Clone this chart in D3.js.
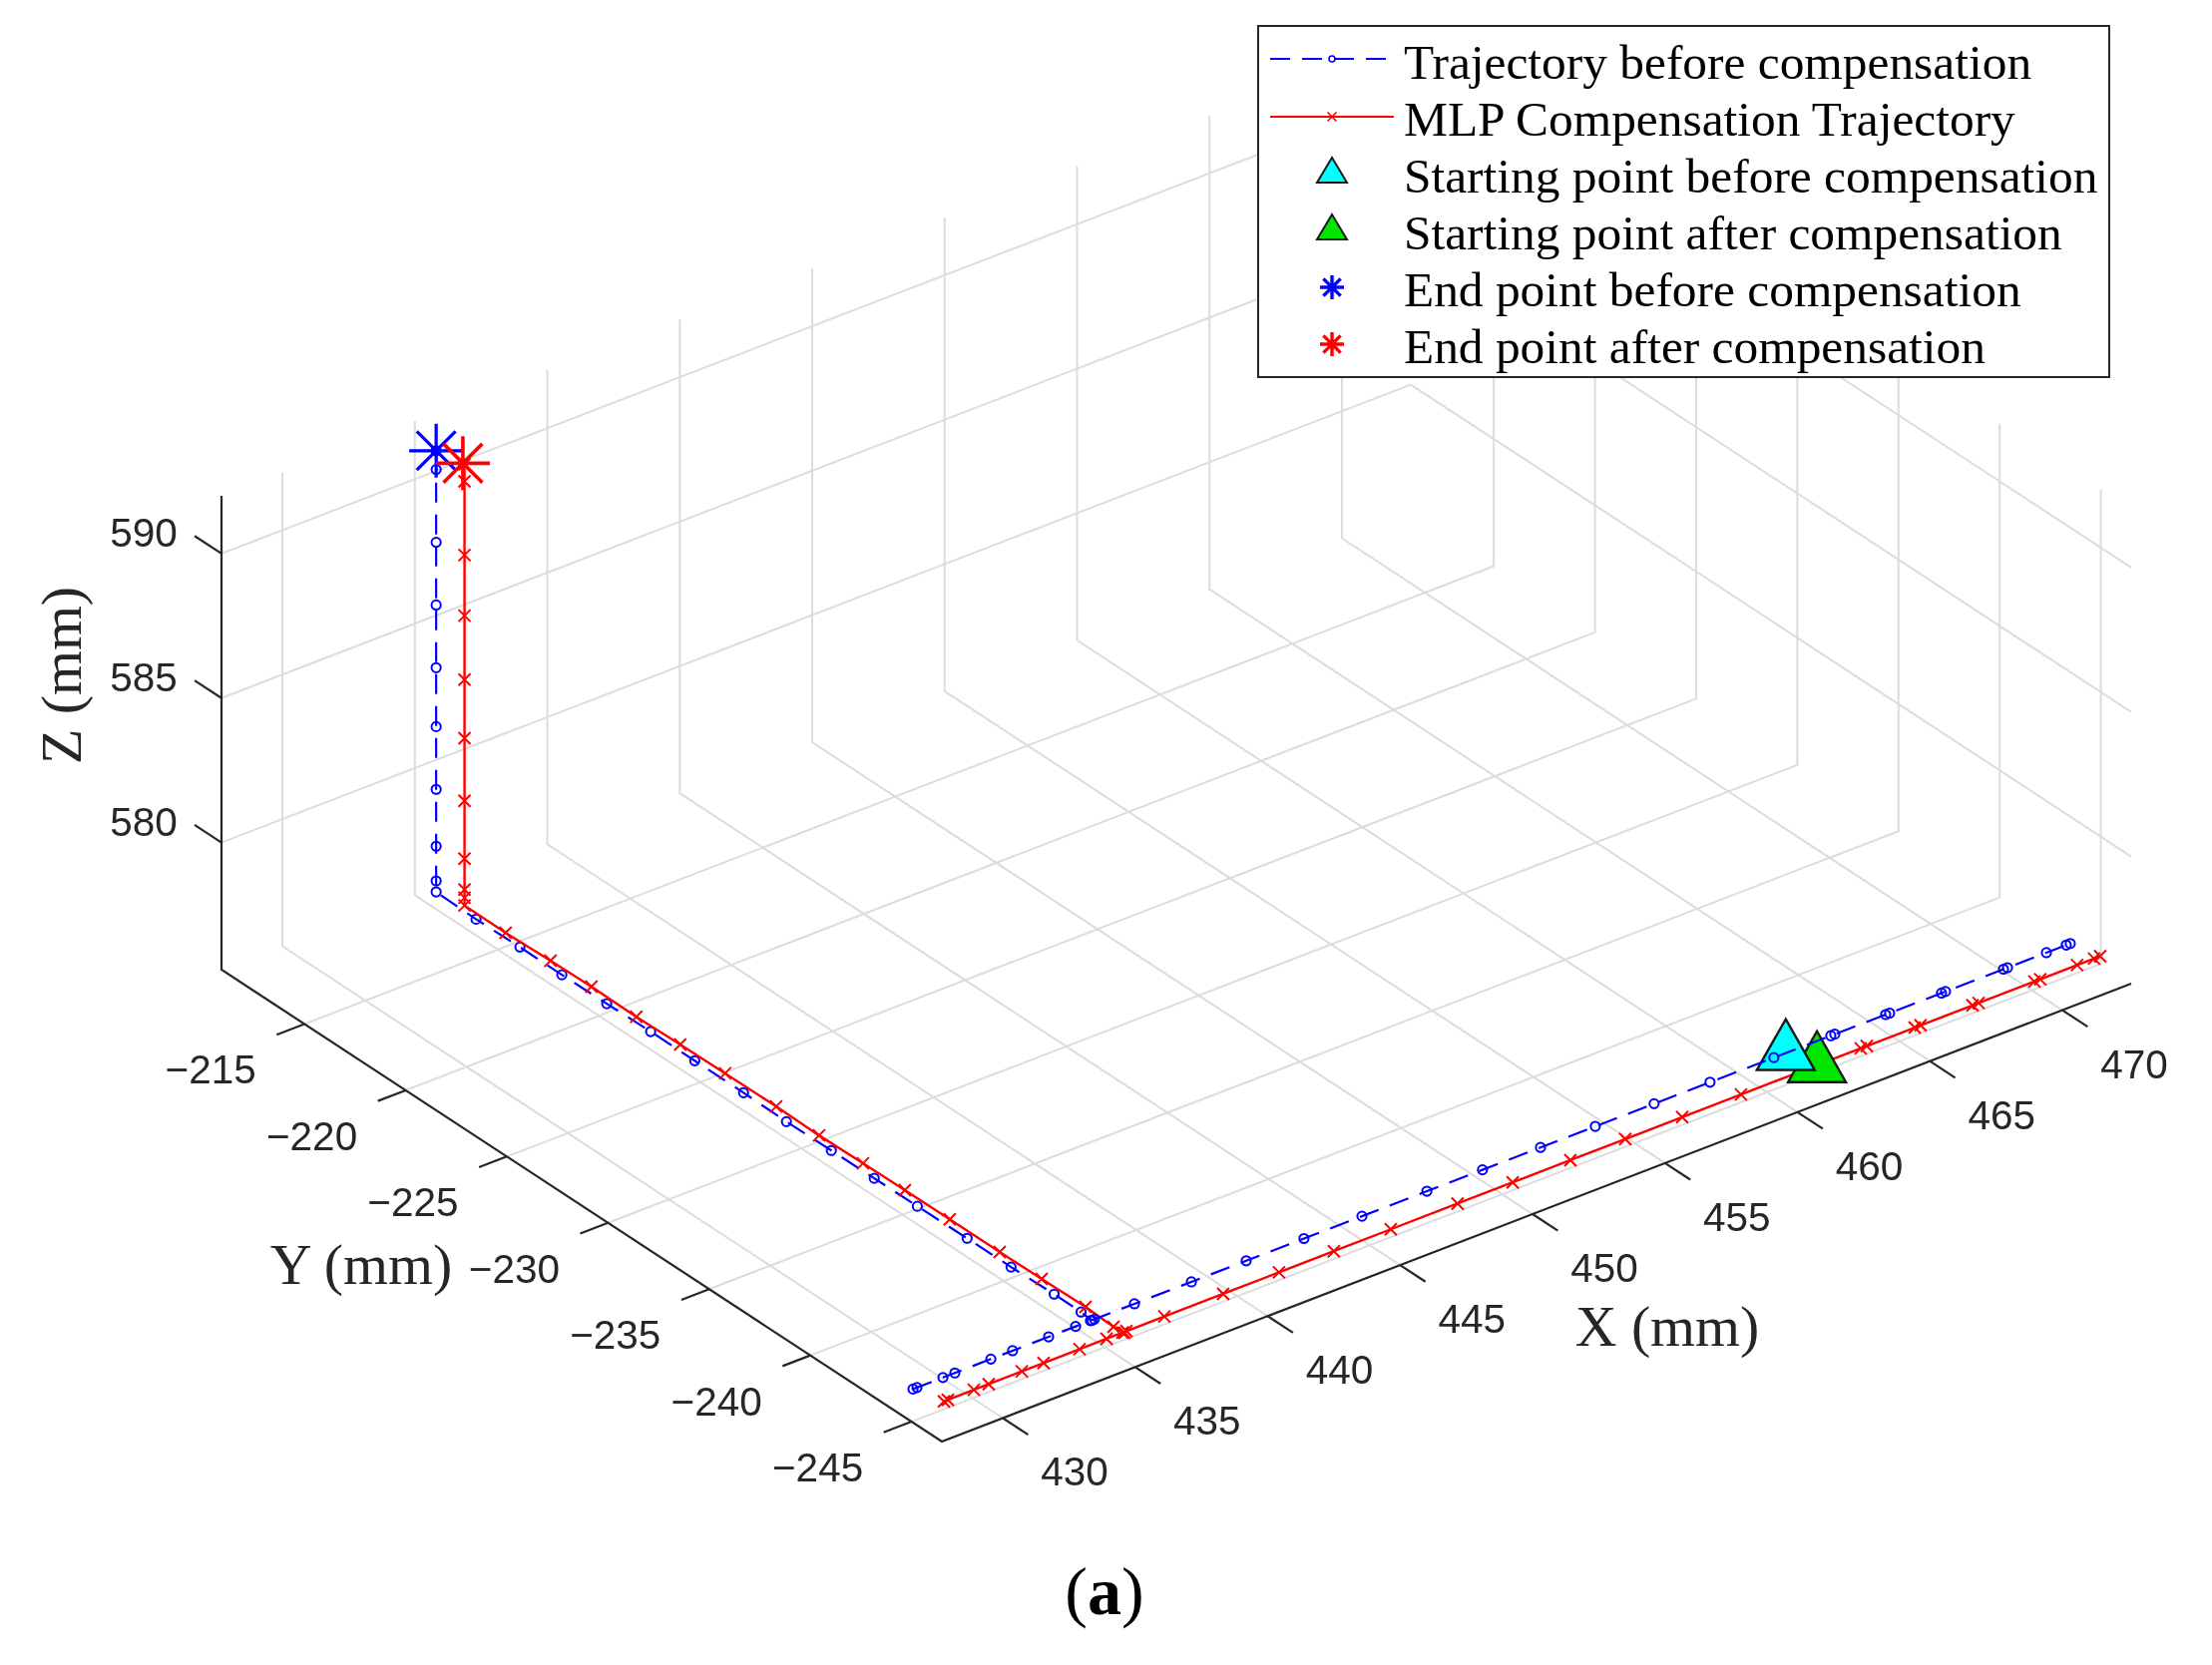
<!DOCTYPE html>
<html>
<head>
<meta charset="utf-8">
<script src="https://cdn.jsdelivr.net/npm/d3@7"></script>
<style>
  body { margin: 0; background: #fff; }
  svg { filter: blur(0.5px); }
  text { fill: #262626; }
  .tick-label { font-family: "Liberation Sans", Arial, sans-serif; font-size: 40.5px; }
  .axis-label { font-family: "Liberation Serif", "Times New Roman", serif; font-size: 57.8px; }
  .legend-label { font-family: "Liberation Serif", "Times New Roman", serif; font-size: 49.4px; fill: #000; }
</style>
</head>
<body>
<div id="chart"></div>
<script>
// axis limits and ticks (mm)
var xLim = [427.7, 472.6], yLim = [-246.5, -210.9], zLim = [575.6, 592];
var xTicks = [430, 435, 440, 445, 450, 455, 460, 465, 470];
var yTicks = [-245, -240, -235, -230, -225, -220, -215];
var zTicks = [580, 585, 590];

// before compensation: run along X
var blueRunX = [427.45, 427.60, 428.58, 429.03, 430.39, 431.21, 432.57, 433.59, 434.15, 434.30, 435.81, 437.96, 440.03, 442.21, 444.40, 446.85, 448.95, 451.14, 453.21, 455.43, 457.54, 459.95, 462.10, 462.25, 464.17, 464.32, 466.28, 466.43, 468.62, 468.77, 470.24, 470.99, 471.14];
var blueRunY = -245.4, blueRunZ = 577;
// before compensation: drop along Z then run along Y
var blueLegX = 434.2;
var blueLegY = [-213.0, -213.0, -213.0, -213.0, -213.0, -213.0, -213.0, -213.0, -213.0, -213.0, -214.97, -217.14, -219.21, -221.43, -223.60, -225.78, -228.19, -230.31, -232.53, -234.65, -236.78, -239.24, -241.41, -243.54, -244.87, -245.41];
var blueLegZ = [592.23, 591.58, 589.06, 586.89, 584.72, 582.68, 580.51, 578.54, 577.34, 576.96, 576.92, 576.95, 576.94, 576.96, 576.99, 576.98, 576.98, 576.95, 576.97, 576.98, 576.99, 577.01, 577.01, 577.05, 577.04, 577.00];

// after compensation: run along X
var redRunX = [427.74, 427.89, 428.87, 429.43, 430.68, 431.50, 432.86, 433.88, 434.48, 434.63, 436.06, 438.28, 440.39, 442.46, 444.61, 447.13, 449.21, 451.39, 453.46, 455.61, 457.83, 460.09, 460.24, 462.35, 462.58, 464.39, 464.61, 466.57, 466.80, 468.91, 469.13, 470.52, 471.16, 471.39];
var redRunY = -246.55, redRunZ = 577;
// after compensation: drop along Z then run along Y
var redLegX = 434.56;
var redLegY = [-213.93, -213.93, -213.93, -213.93, -213.93, -213.93, -213.93, -213.93, -213.93, -213.93, -213.93, -215.96, -218.18, -220.20, -222.42, -224.59, -226.81, -229.33, -231.45, -233.62, -235.69, -237.91, -240.38, -242.45, -244.62, -246.00, -246.54];
var redLegZ = [592.06, 591.47, 588.92, 586.82, 584.61, 582.58, 580.41, 578.41, 577.34, 577.06, 576.79, 576.78, 576.83, 576.86, 576.83, 576.87, 576.89, 576.90, 576.87, 576.90, 576.92, 576.93, 576.93, 576.95, 576.98, 576.92, 576.96];

// start and end points [x, y, z]
var startBefore = [460.4, -245.4, 577], startAfter = [460.7, -246.55, 577];
var endBefore = [434.2, -213.0, 592.23], endAfter = [434.56, -213.85, 592.06];

var legendLabels = ["Trajectory before compensation", "MLP Compensation Trajectory", "Starting point before compensation", "Starting point after compensation", "End point before compensation", "End point after compensation"];

var width = 2217, height = 1669;
var svg = d3.select("#chart").append("svg").attr("width", width).attr("height", height);

// orthographic view: each axis maps to a screen vector from the front corner
var origin = [944, 1445], vx = [1192, -459], vy = [-722, -473], vz = -475;
var xS = d3.scaleLinear().domain(xLim).range([0, 1]);
var yS = d3.scaleLinear().domain(yLim).range([0, 1]);
var zS = d3.scaleLinear().domain(zLim).range([0, 1]);
function project(p) {
    return [
        origin[0] + xS(p[0]) * vx[0] + yS(p[1]) * vy[0],
        origin[1] + xS(p[0]) * vx[1] + yS(p[1]) * vy[1] + zS(p[2]) * vz
    ];
}
var line3 = d3.line().x(function (p) { return project(p)[0]; }).y(function (p) { return project(p)[1]; });

function seg(g, pts, stroke, w) {
    return g.append("path").attr("d", line3(pts)).attr("fill", "none").attr("stroke", stroke).attr("stroke-width", w);
}

// grid
var grid = svg.append("g");
xTicks.forEach(function (x) {
    seg(grid, [[x, yLim[0], zLim[0]], [x, yLim[1], zLim[0]], [x, yLim[1], zLim[1]]], "#dcdcdc", 2);
});
yTicks.forEach(function (y) {
    seg(grid, [[xLim[0], y, zLim[0]], [xLim[1], y, zLim[0]], [xLim[1], y, zLim[1]]], "#dcdcdc", 2);
});
zTicks.forEach(function (z) {
    seg(grid, [[xLim[0], yLim[1], z], [xLim[1], yLim[1], z], [xLim[1], yLim[0], z]], "#dcdcdc", 2);
});

// axes
var axes = svg.append("g");
seg(axes, [[xLim[0], yLim[1], zLim[1]], [xLim[0], yLim[1], zLim[0]], [xLim[0], yLim[0], zLim[0]], [xLim[1], yLim[0], zLim[0]]], "#262626", 2.2);
function tickLabel(p, dx, dy, txt) {
    var c = project(p);
    axes.append("text").attr("class", "tick-label")
        .attr("x", c[0] + dx).attr("y", c[1] + dy)
        .attr("text-anchor", "middle").attr("dominant-baseline", "central")
        .text(txt);
}
xTicks.forEach(function (x) {
    seg(axes, [[x, yLim[0], zLim[0]], [x, yLim[0] - 1.25, zLim[0]]], "#262626", 2.2);
    tickLabel([x, yLim[0], zLim[0]], 72, 54, x);
});
yTicks.forEach(function (y) {
    seg(axes, [[xLim[0], y, zLim[0]], [xLim[0] - 1.05, y, zLim[0]]], "#262626", 2.2);
    tickLabel([xLim[0], y, zLim[0]], -94, 46, "\u2212" + Math.abs(y));
});
zTicks.forEach(function (z) {
    seg(axes, [[xLim[0], yLim[1], z], [xLim[0], yLim[1] + 1.33, z]], "#262626", 2.2);
    tickLabel([xLim[0], yLim[1], z], -78, -21, z);
});

svg.append("text").attr("class", "axis-label").attr("x", 1671).attr("y", 1329).attr("text-anchor", "middle").attr("dominant-baseline", "central").text("X (mm)");
svg.append("text").attr("class", "axis-label").attr("x", 362).attr("y", 1267).attr("text-anchor", "middle").attr("dominant-baseline", "central").text("Y (mm)");
svg.append("text").attr("class", "axis-label").attr("text-anchor", "middle").attr("dominant-baseline", "central")
    .attr("transform", "translate(61,677) rotate(-90)").text("Z (mm)");

// markers
function circles(g, pts, r, w) {
    g.selectAll(null).data(pts).enter().append("circle")
        .attr("cx", function (p) { return project(p)[0]; })
        .attr("cy", function (p) { return project(p)[1]; })
        .attr("r", r).attr("fill", "none").attr("stroke", "#0000ff").attr("stroke-width", w);
}
function crossPath(c, a) {
    var s = "";
    [[a, a], [a, -a]].forEach(function (d) {
        s += "M" + (c[0] - d[0]) + "," + (c[1] - d[1]) + "L" + (c[0] + d[0]) + "," + (c[1] + d[1]);
    });
    return s;
}
function crosses(g, pts, a, w) {
    g.append("path").attr("d", pts.map(function (p) { return crossPath(project(p), a); }).join(""))
        .attr("stroke", "#ff0000").attr("stroke-width", w).attr("fill", "none");
}
function starPath(c, a) {
    var b = a * 0.72;
    return crossPath(c, b) + "M" + (c[0] - a) + "," + c[1] + "L" + (c[0] + a) + "," + c[1] +
        "M" + c[0] + "," + (c[1] - a) + "L" + c[0] + "," + (c[1] + a);
}
function star(g, c, a, color, w) {
    g.append("path").attr("d", starPath(c, a)).attr("stroke", color).attr("stroke-width", w).attr("fill", "none");
}
function triangle(g, c, hw, up, down, fill, w) {
    g.append("path")
        .attr("d", "M" + c[0] + "," + (c[1] - up) + "L" + (c[0] + hw) + "," + (c[1] + down) + "L" + (c[0] - hw) + "," + (c[1] + down) + "Z")
        .attr("fill", fill).attr("stroke", "#1a1a1a").attr("stroke-width", w).attr("stroke-linejoin", "miter");
}

var blueLeg = blueLegY.map(function (y, i) { return [blueLegX, y, blueLegZ[i]]; });
var redLeg = redLegY.map(function (y, i) { return [redLegX, y, redLegZ[i]]; });
var blueRun = blueRunX.map(function (x) { return [x, blueRunY, blueRunZ]; });
var redRun = redRunX.map(function (x) { return [x, redRunY, redRunZ]; });

var plot = svg.append("g");
seg(plot, blueLeg, "#0000ff", 2.2).attr("stroke-dasharray", "20,12");
circles(plot, blueLeg, 4.6, 2);
seg(plot, redLeg, "#ff0000", 2.4);
crosses(plot, redLeg, 6, 2);
seg(plot, redRun, "#ff0000", 2.4);
crosses(plot, redRun, 6, 2);
triangle(plot, project(startAfter), 29, 34, 17, "#00e600", 2.4);
triangle(plot, project(startBefore), 29, 34, 17, "#00ffff", 2.4);
seg(plot, blueRun, "#0000ff", 2.2).attr("stroke-dasharray", "20,12");
circles(plot, blueRun, 4.6, 2);
star(plot, project(endBefore), 27, "#0000ff", 3.2);
star(plot, project(endAfter), 27, "#ff0000", 3.6);

// legend
var legend = svg.append("g");
legend.append("rect").attr("x", 1261).attr("y", 26).attr("width", 853).attr("height", 352)
    .attr("fill", "#fff").attr("stroke", "#262626").attr("stroke-width", 2);
var legendY = d3.scalePoint().domain(legendLabels).range([62, 347]);
legendLabels.forEach(function (t) {
    legend.append("text").attr("class", "legend-label").attr("x", 1407).attr("y", legendY(t))
        .attr("dominant-baseline", "central").text(t);
});
legend.append("line").attr("x1", 1273).attr("x2", 1395).attr("y1", 59).attr("y2", 59)
    .attr("stroke", "#0000ff").attr("stroke-width", 2).attr("stroke-dasharray", "20,12");
legend.append("circle").attr("cx", 1335).attr("cy", 59).attr("r", 3).attr("fill", "none").attr("stroke", "#0000ff").attr("stroke-width", 1.6);
legend.append("line").attr("x1", 1273).attr("x2", 1397).attr("y1", 117).attr("y2", 117)
    .attr("stroke", "#ff0000").attr("stroke-width", 2.2);
legend.append("path").attr("d", crossPath([1335, 117], 4.5)).attr("stroke", "#ff0000").attr("stroke-width", 1.6);
triangle(legend, [1335, 175], 15, 17, 8, "#00ffff", 2);
triangle(legend, [1335, 232], 15, 17, 8, "#00e600", 2);
star(legend, [1335, 288], 12, "#0000ff", 3.4);
star(legend, [1335, 345], 12, "#ff0000", 3.4);

// sub-figure caption
var cap = svg.append("text").attr("x", 1107).attr("y", 1595).attr("text-anchor", "middle").attr("dominant-baseline", "central")
    .attr("font-family", "Liberation Serif, serif").attr("font-size", 68).style("fill", "#000");
cap.append("tspan").text("(");
cap.append("tspan").attr("font-weight", "bold").text("a");
cap.append("tspan").text(")");
</script>
</body>
</html>
